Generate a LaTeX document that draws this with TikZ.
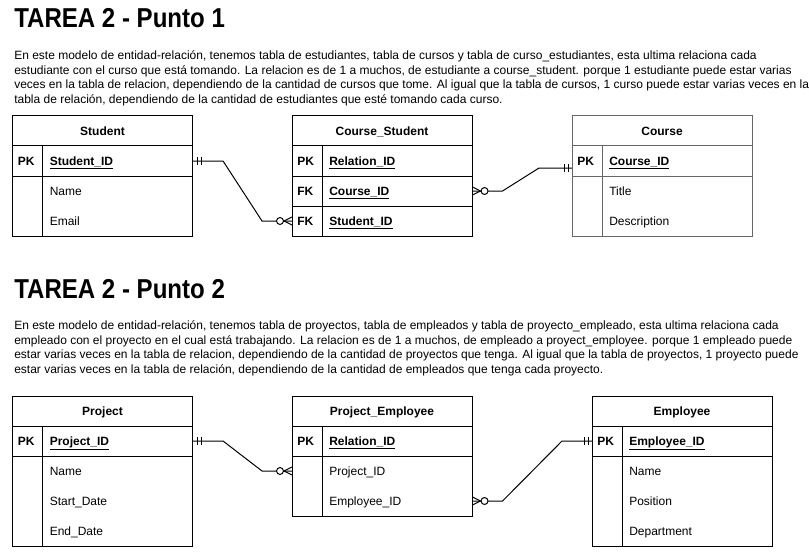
\documentclass[tikz,border=0pt]{standalone}
\usepackage{fontspec}
\setmainfont{Liberation Sans}
\newfontfamily\ttlfont{Liberation Sans}[FakeStretch=0.88]
\usepackage{xcolor}
\usetikzlibrary{positioning, calc}

\definecolor{tblgray}{HTML}{666666}

\tikzset{
  tbl/.style={line width=0.75pt},
  rel/.style={line width=0.75pt},
  ttl/.style={anchor=base west, inner sep=0pt, font=\ttlfont\fontsize{20.5}{24}\selectfont\bfseries},
  para/.style={anchor=base west, inner sep=0pt, align=left, font=\fontsize{9}{10.95}\selectfont},
  hdr/.style={inner sep=0pt, text height=6.5pt, text depth=0pt, font=\fontsize{9}{11}\selectfont\bfseries},
  key/.style={anchor=west, minimum height=22.5pt, text width=15pt, inner xsep=3.75pt, inner ysep=0pt,
    align=left, text height=6.5pt, text depth=0pt, font=\fontsize{9}{11}\selectfont\bfseries},
  fld/.style={anchor=west, minimum height=22.5pt, text width=79.5pt, inner xsep=27.75pt, inner ysep=0pt,
    align=left, text height=6.5pt, text depth=0pt, font=\fontsize{9}{11}\selectfont},
  fldkey/.style={fld, font=\fontsize{9}{11}\selectfont\bfseries},
  pics/one/.style={code={\draw[rel] (4,-4) -- (4,4) (8,-4) -- (8,4);}},
  pics/zeromany/.style={code={
    \draw[rel] (0,-4) -- (8,0) -- (0,4);
    \draw[rel, fill=white] (12,0) circle[radius=2.6pt];}},
}

\begin{document}
\begin{tikzpicture}[x=0.75pt, y=-0.75pt]
  \useasboundingbox (0,0) rectangle (809,556);
  \clip (0,0) rectangle (809,556);

  % Punto 1 (base of the paragraph is its last line)
  \node[ttl] (t1) at (14,28) {TAREA 2 - Punto 1};
  \node[para] (p1) at (14,103.3) {En este modelo de entidad-relación, tenemos tabla de estudiantes, tabla de cursos y tabla de curso\_estudiantes, esta ultima relaciona cada\\
    estudiante con el curso que está tomando. La relacion es de 1 a muchos, de estudiante a course\_student. porque 1 estudiante puede estar varias\\
    veces en la tabla de relacion, dependiendo de la cantidad de cursos que tome. Al igual que la tabla de cursos, 1 curso puede estar varias veces en la\\
    tabla de relación, dependiendo de la cantidad de estudiantes que esté tomando cada curso.};

  % Student
  \draw[tbl] (12.5,116) rectangle (192.5,236);
  \draw[tbl] (12.5,146) -- (192.5,146) (12.5,176) -- (192.5,176) (42.5,146) -- (42.5,236);
  \node[hdr] (stu) at (102.5,131) {Student};
  \node[fldkey] (stuID) at (12.5,161) {\underline{Student\_ID}};
  \node[key] (stuPK) at (12.5,161) {PK};
  \node[fld] (stuName) at (12.5,191) {Name};
  \node[fld] (stuMail) at (12.5,221) {Email};

  % Course_Student
  \draw[tbl] (292,116) rectangle (472,236);
  \draw[tbl] (292,146) -- (472,146) (292,176) -- (472,176) (292,206) -- (472,206) (322,146) -- (322,236);
  \node[hdr] (cs) at (382,131) {Course\_Student};
  \node[fldkey] (csRID) at (292,161) {\underline{Relation\_ID}};
  \node[key] (csPK) at (292,161) {PK};
  \node[fldkey] (csCID) at (292,191) {\underline{Course\_ID}};
  \node[key] (csFKc) at (292,191) {FK};
  \node[fldkey] (csSID) at (292,221) {\underline{Student\_ID}};
  \node[key] (csFKs) at (292,221) {FK};

  % Course
  \draw[tbl, tblgray] (572,116) rectangle (752,236);
  \draw[tbl, tblgray] (572,146) -- (752,146) (572,176) -- (752,176) (602,146) -- (602,236);
  \node[hdr] (co) at (662,131) {Course};
  \node[fldkey] (coID) at (572,161) {\underline{Course\_ID}};
  \node[key] (coPK) at (572,161) {PK};
  \node[fld] (coTitle) at (572,191) {Title};
  \node[fld] (coDesc) at (572,221) {Description};

  % relations 1
  \draw[rel] (stuID.east) -- ++(30,0) -- ($(csSID.west)+(-30,0)$) -- (csSID.west);
  \pic at (stuID.east) {one};
  \pic[xscale=-1] at (csSID.west) {zeromany};
  \draw[rel] (csCID.east) -- ++(30,0) -- ($(coID.west)+(-33,7)$) -- ($(coID.west)+(0,7)$);
  \pic at (csCID.east) {zeromany};
  \pic[xscale=-1] at ($(coID.west)+(0,7)$) {one};

  % Punto 2
  \node[ttl] (t2) at (14,298) {TAREA 2 - Punto 2};
  \node[para] (p2) at (14,373.3) {En este modelo de entidad-relación, tenemos tabla de proyectos, tabla de empleados y tabla de proyecto\_empleado, esta ultima relaciona cada\\
    empleado con el proyecto en el cual está trabajando. La relacion es de 1 a muchos, de empleado a proyect\_employee. porque 1 empleado puede\\
    estar varias veces en la tabla de relacion, dependiendo de la cantidad de proyectos que tenga. Al igual que la tabla de proyectos, 1 proyecto puede\\
    estar varias veces en la tabla de relación, dependiendo de la cantidad de empleados que tenga cada proyecto.};

  % Project
  \draw[tbl] (12.5,396) rectangle (192.5,546);
  \draw[tbl] (12.5,426) -- (192.5,426) (12.5,456) -- (192.5,456) (42.5,426) -- (42.5,546);
  \node[hdr] (prj) at (102.5,411) {Project};
  \node[fldkey] (prjID) at (12.5,441) {\underline{Project\_ID}};
  \node[key] (prjPK) at (12.5,441) {PK};
  \node[fld] (prjName) at (12.5,471) {Name};
  \node[fld] (prjStart) at (12.5,501) {Start\_Date};
  \node[fld] (prjEnd) at (12.5,531) {End\_Date};

  % Project_Employee
  \draw[tbl] (292,396) rectangle (472,516);
  \draw[tbl] (292,426) -- (472,426) (292,456) -- (472,456) (322,426) -- (322,516);
  \node[hdr] (pe) at (382,411) {Project\_Employee};
  \node[fldkey] (peRID) at (292,441) {\underline{Relation\_ID}};
  \node[key] (pePK) at (292,441) {PK};
  \node[fld] (pePID) at (292,471) {Project\_ID};
  \node[fld] (peEID) at (292,501) {Employee\_ID};

  % Employee
  \draw[tbl] (592,396) rectangle (772,546);
  \draw[tbl] (592,426) -- (772,426) (592,456) -- (772,456) (622,426) -- (622,546);
  \node[hdr] (em) at (682,411) {Employee};
  \node[fldkey] (emID) at (592,441) {\underline{Employee\_ID}};
  \node[key] (emPK) at (592,441) {PK};
  \node[fld] (emName) at (592,471) {Name};
  \node[fld] (emPos) at (592,501) {Position};
  \node[fld] (emDep) at (592,531) {Department};

  % relations 2
  \draw[rel] (prjID.east) -- ++(30,0) -- ($(pePID.west)+(-30,0)$) -- (pePID.west);
  \pic at (prjID.east) {one};
  \pic[xscale=-1] at (pePID.west) {zeromany};
  \draw[rel] (peEID.east) -- ++(30,0) -- ($(emID.west)+(-30,0)$) -- (emID.west);
  \pic at (peEID.east) {zeromany};
  \pic[xscale=-1] at (emID.west) {one};
\end{tikzpicture}
\end{document}
